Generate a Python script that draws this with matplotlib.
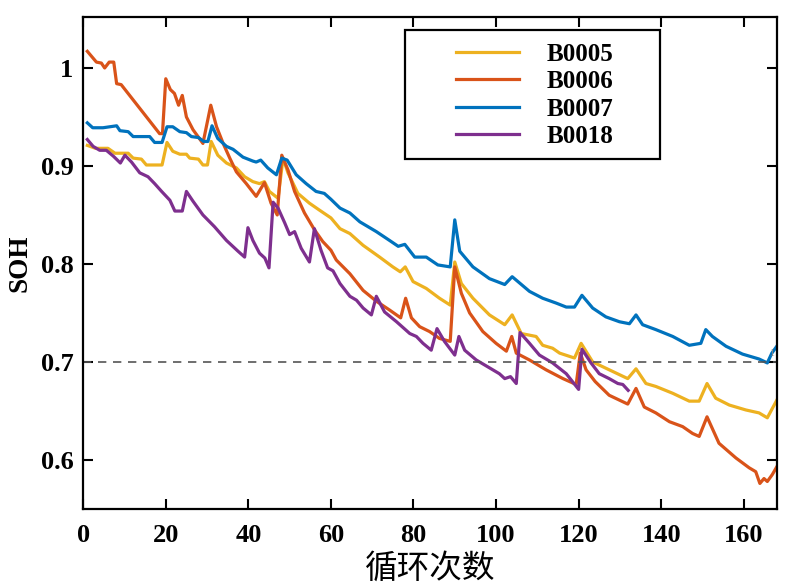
import matplotlib
matplotlib.use("Agg")
import matplotlib.pyplot as plt
from matplotlib.patches import Rectangle

plt.rcParams['font.family'] = ['Liberation Serif', 'Noto Sans CJK SC', 'DejaVu Sans']
plt.rcParams['font.weight'] = 'bold'

# SOH values (cycle, SOH)
x5 = [1, 3, 6, 7.7, 10.9, 12.1, 14.1, 15.3, 19.1, 20.3, 21.7, 23.4, 25, 25.8, 27.9,
      29, 30.1, 31, 32.6, 34.7, 37.1, 39.1, 41.1, 42.7, 43.9, 45.1, 47.2, 48.4, 49.6, 52,
      54.8, 57.2, 60, 62.2, 64.6, 67.8, 71.8, 75, 76.8, 78, 79.9, 83.1, 86.3, 88.9, 90,
      91.6, 94.4, 98.4, 102.1, 103.9, 106.1, 109.7, 111.3, 113.7, 115.4, 119, 120.6, 123.4,
      127.4, 131.9, 133.9, 136.3, 138.7, 142.8, 146.8, 149.2, 151.1, 153.2, 156.5, 160.5,
      163.7, 165.7, 168]
y5 = [0.921, 0.918, 0.918, 0.913, 0.913, 0.908, 0.907, 0.901, 0.901, 0.924, 0.915, 0.912,
      0.912, 0.908, 0.907, 0.901, 0.901, 0.925, 0.911, 0.903, 0.898, 0.889, 0.884, 0.882,
      0.884, 0.874, 0.867, 0.908, 0.893, 0.872, 0.862, 0.855, 0.847, 0.836, 0.831, 0.819,
      0.807, 0.797, 0.792, 0.797, 0.782, 0.775, 0.765, 0.758, 0.802, 0.780, 0.765, 0.748,
      0.738, 0.748, 0.729, 0.726, 0.717, 0.714, 0.709, 0.704, 0.719, 0.700, 0.692, 0.683,
      0.693, 0.678, 0.675, 0.668, 0.660, 0.660, 0.678, 0.663, 0.656, 0.651, 0.648, 0.643,
      0.661]

x6 = [1, 3.2, 4.4, 5.2, 6.3, 7.4, 8.1, 9.2, 18.5, 19.2, 20, 21.1, 22.1, 23.1, 24, 25,
      26.6, 29, 30.9, 32.3, 33.9, 35.5, 37.1, 39.5, 41.9, 43.9, 45.5, 47, 48.1, 49.6, 51.2,
      53.6, 56, 58, 60, 61.3, 64.6, 67.8, 71, 74.2, 76.9, 78.1, 79.5, 81.5, 83.9, 86.3,
      88.9, 90, 91.6, 93.6, 96.8, 100, 102.5, 103.8, 104.9, 108.1, 112.1, 116.2, 119.4,
      120.4, 121.8, 124, 127.4, 131.9, 133.9, 135.9, 138.7, 142, 145.2, 147.6, 149.2,
      151.1, 154, 158.1, 161.3, 162.9, 163.9, 164.9, 165.7, 166.9, 168]
y6 = [1.017, 1.006, 1.005, 1.0, 1.006, 1.006, 0.984, 0.983, 0.933, 0.933, 0.989, 0.978,
      0.974, 0.962, 0.972, 0.950, 0.937, 0.923, 0.962, 0.940, 0.923, 0.908, 0.894, 0.882,
      0.869, 0.883, 0.862, 0.850, 0.911, 0.896, 0.874, 0.852, 0.835, 0.823, 0.814, 0.804,
      0.790, 0.773, 0.762, 0.753, 0.745, 0.765, 0.745, 0.736, 0.731, 0.724, 0.721, 0.797,
      0.770, 0.750, 0.731, 0.719, 0.711, 0.726, 0.709, 0.702, 0.692, 0.683, 0.677, 0.709,
      0.692, 0.680, 0.666, 0.657, 0.673, 0.654, 0.648, 0.639, 0.634, 0.627, 0.624, 0.644,
      0.617, 0.602, 0.592, 0.588, 0.576, 0.581, 0.578, 0.585, 0.593]

x7 = [1, 2.3, 4.8, 8.1, 8.9, 10.9, 12.1, 16.1, 17.3, 19.1, 20.3, 21.7, 23.4, 25, 26.2,
      27.9, 29.2, 30.2, 31.2, 32.6, 34.7, 36.3, 38.7, 41.1, 41.9, 43, 44.7, 46.8, 48.1,
      49.4, 51.6, 54, 56.4, 58.4, 60, 62.2, 64.6, 67, 71, 74.2, 76.3, 77.9, 80.3, 83.1,
      85.9, 88.9, 90, 91.2, 94.4, 98.4, 102.1, 103.9, 108.1, 111.3, 114.6, 117, 119, 120.8,
      123.4, 126.6, 129.9, 132.3, 133.9, 135.5, 138.7, 142.8, 146.8, 149.6, 150.8, 152.4,
      155.7, 159.7, 163.7, 165.7, 166.8, 168]
y7 = [0.944, 0.939, 0.939, 0.941, 0.936, 0.935, 0.930, 0.930, 0.924, 0.924, 0.940, 0.940,
      0.935, 0.934, 0.930, 0.929, 0.925, 0.925, 0.941, 0.928, 0.920, 0.917, 0.909, 0.905,
      0.904, 0.906, 0.898, 0.891, 0.908, 0.906, 0.891, 0.882, 0.874, 0.872, 0.866, 0.857,
      0.852, 0.843, 0.833, 0.824, 0.818, 0.820, 0.807, 0.807, 0.799, 0.797, 0.845, 0.813,
      0.797, 0.785, 0.779, 0.787, 0.772, 0.765, 0.760, 0.756, 0.756, 0.768, 0.755, 0.746,
      0.741, 0.739, 0.748, 0.738, 0.733, 0.726, 0.717, 0.719, 0.733, 0.726, 0.716, 0.708,
      0.703, 0.699, 0.709, 0.716]

x18 = [1, 2.4, 4, 5.6, 7.3, 9, 10.1, 11.7, 13.7, 15.7, 17.3, 19, 21, 22.2, 24, 25, 26.6,
       29, 31.8, 34.7, 37.5, 39.1, 39.9, 41.1, 42.7, 44, 45, 46, 47.2, 48.8, 50, 51.2, 52.8,
       54.8, 56, 57.6, 59.2, 60.5, 62.2, 64.6, 66.2, 67.8, 69.8, 71, 73, 75.9, 79.1, 80.7,
       82.3, 84.3, 85.7, 87.5, 90, 91, 92.4, 95.2, 98.4, 100.8, 102.1, 103.5, 104.9, 105.8,
       108.1, 110.5, 113.7, 117, 120, 120.8, 123, 125, 127.4, 129.5, 130.7, 132]
y18 = [0.927, 0.920, 0.916, 0.916, 0.910, 0.903, 0.911, 0.904, 0.893, 0.889, 0.882, 0.874,
       0.865, 0.854, 0.854, 0.874, 0.864, 0.850, 0.838, 0.824, 0.813, 0.807, 0.837, 0.824,
       0.811, 0.806, 0.796, 0.863, 0.857, 0.842, 0.830, 0.833, 0.816, 0.802, 0.836, 0.814,
       0.796, 0.793, 0.780, 0.767, 0.763, 0.755, 0.748, 0.767, 0.751, 0.741, 0.729, 0.726,
       0.719, 0.712, 0.734, 0.721, 0.707, 0.726, 0.712, 0.702, 0.694, 0.688, 0.683, 0.685,
       0.678, 0.730, 0.719, 0.707, 0.699, 0.688, 0.672, 0.713, 0.699, 0.688, 0.683, 0.678,
       0.677, 0.671]

names = ['B0005', 'B0006', 'B0007', 'B0018']
colors = ['#EDB120', '#D95319', '#0072BD', '#7E2F8E']
threshold = 0.7

xticks = [0, 20, 40, 60, 80, 100, 120, 140, 160]
yticks = [0.6, 0.7, 0.8, 0.9, 1.0]
ytick_labels = ['0.6', '0.7', '0.8', '0.9', '1']

fig = plt.figure(figsize=(8, 5.87), dpi=100)
ax = fig.add_axes([0.104, 0.133, 0.867, 0.838])

series = [(x5, y5), (x6, y6), (x7, y7), (x18, y18)]
for (xs, ys), name, c in zip(series, names, colors):
    ax.plot(xs, ys, color=c, lw=2.3, label=name)

ax.axhline(threshold, color='#555555', lw=1.2, ls=(0, (5, 4)))
ax.text(166.2, 0.706, '1', fontsize=7, color='#888888', fontweight='normal')

ax.set_xlim(0, 168)
ax.set_ylim(0.55, 1.052)
ax.set_xticks(xticks)
ax.set_yticks(yticks)
ax.set_yticklabels(ytick_labels)
ax.tick_params(direction='in', length=7, width=1.5, labelsize=19,
               top=True, right=True)
ax.tick_params(axis='x', pad=11)
ax.tick_params(axis='y', pad=7)
for s in ax.spines.values():
    s.set_linewidth(1.6)

ax.set_ylabel('SOH', fontsize=19.5, fontweight='bold', labelpad=6)
ax.set_xlabel('循环次数', fontsize=23.5, fontweight='normal',
              family=['Noto Sans CJK SC', 'DejaVu Sans'], labelpad=4)

# legend: frameless entries + drawn box
leg = ax.legend(loc='upper left', bbox_to_anchor=(0.537, 0.948), frameon=False,
                fontsize=18, handlelength=2.55, handletextpad=1.1,
                labelspacing=0.18, borderpad=0, borderaxespad=0)
ax.add_patch(Rectangle((0.464, 0.711), 0.367, 0.263, transform=ax.transAxes,
                       fill=False, ec='black', lw=1.6, zorder=5))

fig.savefig('out.png', dpi=100)
